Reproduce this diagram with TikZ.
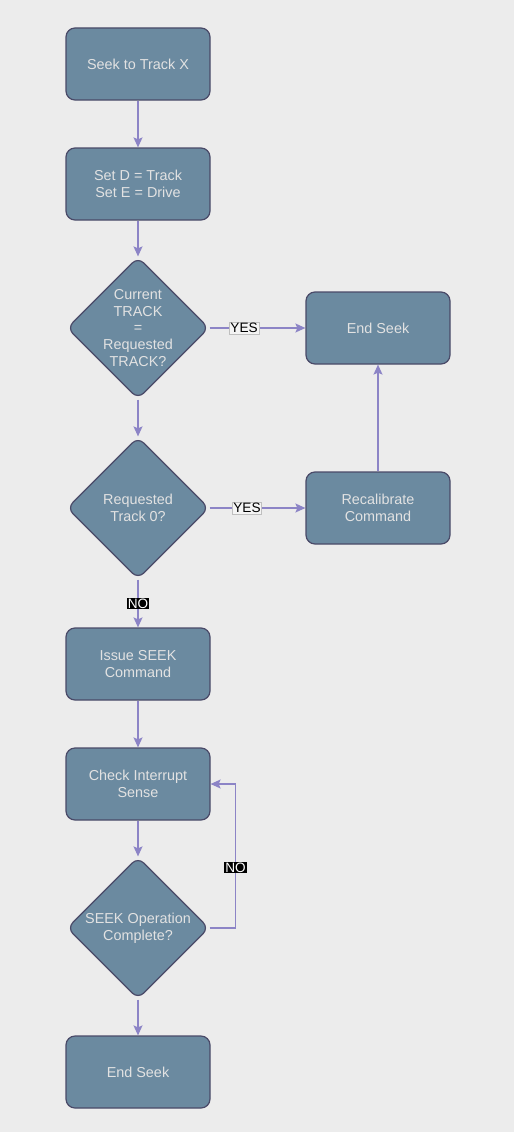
\documentclass[tikz,border=0pt]{standalone}
\usepackage{fontspec}
\setmainfont{Liberation Sans}
\usetikzlibrary{positioning, calc}
\usetikzlibrary{shapes.geometric}
\usetikzlibrary{arrows.meta}
\definecolor{bgcol}{HTML}{ECECEC}
\definecolor{nodefill}{HTML}{6B8AA0}
\definecolor{nodeline}{HTML}{4A4A68}
\definecolor{nodetext}{HTML}{E2E2E2}
\definecolor{flowcol}{HTML}{8C84C6}

\begin{document}
\begin{tikzpicture}[x=1pt,y=-1pt,
    stepbox/.style={draw=nodeline, fill=nodefill, line width=1.2pt, rounded corners=9pt,
        minimum width=144pt, minimum height=72pt, align=center, text=nodetext,
        font=\fontsize{14.4}{16.6}\selectfont},
    decision/.style={diamond, draw=nodeline, fill=nodefill, line width=1.2pt, rounded corners=8pt,
        minimum width=142pt, minimum height=142pt, inner sep=0pt},
    dtext/.style={align=center, text=nodetext, font=\fontsize{14.4}{16.6}\selectfont},
    flow/.style={draw=flowcol, line width=1.4pt, -{Stealth[length=10pt,width=9pt,inset=2pt]}},
    yeslab/.style={fill=bgcol!60!white, draw=black!25, line width=0.4pt, inner sep=1pt,
        text=black, font=\fontsize{13.6}{14}\selectfont},
    nolab/.style={fill=black, inner sep=1pt, text=white, font=\fontsize{13.6}{14}\selectfont}]
    \fill[bgcol] (0,0) rectangle (514,1132);
    \useasboundingbox (0,0) rectangle (514,1132);
    % main column
    \node[stepbox] (seek) at (138,64) {Seek to Track X};
    \node[stepbox] (setd) at (138,184) {Set D = Track\\Set E = Drive};
    \node[decision] (d1) at (138,328) {};
    \node[dtext] (d1t) at (d1) {Current\\TRACK\\=\\Requested\\TRACK?};
    \node[decision] (d2) at (138,508) {};
    \node[dtext] (d2t) at (d2) {Requested\\Track 0?};
    \node[stepbox] (issue) at (138,664) {Issue SEEK\\Command};
    \node[stepbox] (check) at (138,784) {Check Interrupt\\Sense};
    \node[decision] (d3) at (138,928) {};
    \node[dtext] (d3t) at (d3) {SEEK Operation\\Complete?};
    \node[stepbox] (endB) at (138,1072) {End Seek};
    % right column
    \node[stepbox] (endA) at (378,328) {End Seek};
    \node[stepbox] (recal) at (378,508) {Recalibrate\\Command};
    % connectors
    \draw[flow] (seek) -- (setd);
    \draw[flow] (setd) -- (d1);
    \draw[flow] (d1) -- node[yeslab, pos=0.36] {YES} (endA);
    \draw[flow] (d1) -- (d2);
    \draw[flow] (d2) -- node[yeslab, pos=0.39] {YES} (recal);
    \draw[flow] (recal) -- (endA);
    \draw[flow] (d2) -- node[nolab] {NO} (issue);
    \draw[flow] (issue) -- (check);
    \draw[flow] (check) -- (d3);
    \draw[flow] (d3.east) -- ++(26,0) |- node[nolab, pos=0.21] {NO} (check.east);
    \draw[flow] (d3) -- (endB);
\end{tikzpicture}
\end{document}
